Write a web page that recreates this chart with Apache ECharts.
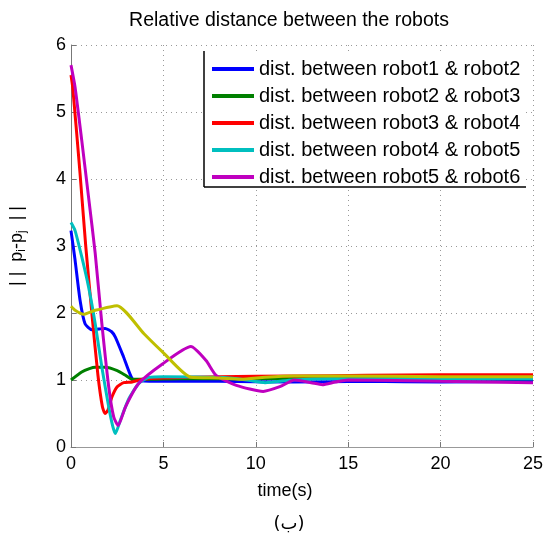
<!DOCTYPE html>
<html>
<head>
<meta charset="utf-8">
<script src="https://cdn.jsdelivr.net/npm/echarts@6/dist/echarts.min.js"></script>
<style>html,body{margin:0;padding:0;background:#fff}#c{width:551px;height:536px}</style>
</head>
<body>
<div id="c"></div>
<script>
const seriesNames = [
  'dist. between robot1 & robot2',
  'dist. between robot2 & robot3',
  'dist. between robot3 & robot4',
  'dist. between robot4 & robot5',
  'dist. between robot5 & robot6',
  'dist. between robot6 & robot1'
];
const xTicks = [0, 5, 10, 15, 20, 25];
const yTicks = [0, 1, 2, 3, 4, 5, 6];

const t12 = [0,0.22,0.49,0.76,1.13,1.5,1.85,2.2,2.4,2.85,3.31,3.7,5,8,12,16,20,25];
const d12 = [3.23,2.79,2.19,1.84,1.75,1.76,1.77,1.72,1.64,1.34,1.02,0.99,0.98,0.98,0.97,0.98,0.97,0.98];

const t23 = [0,0.58,1.0,1.31,1.85,2.5,2.95,3.31,4,6,10,15,20,25];
const d23 = [1.0,1.12,1.17,1.19,1.19,1.14,1.07,1.01,1.01,1.02,1.02,1.03,1.02,1.02];

const t34 = [0,0.1,0.49,0.8,1.13,1.45,1.7,1.85,2.0,2.22,2.5,2.85,3.31,3.85,5,8,12,16,20,25];
const d34 = [5.55,5.35,4.08,2.99,1.99,1.09,0.6,0.5,0.55,0.75,0.9,0.96,0.97,1.01,1.03,1.05,1.06,1.07,1.08,1.08];

const t45 = [0,0.22,0.58,0.95,1.31,1.67,2.04,2.25,2.4,2.67,3.13,3.67,4.22,5,8,9.5,10.5,12,14,20,25];
const d45 = [3.35,3.23,2.84,2.39,1.84,1.19,0.6,0.32,0.2,0.4,0.72,0.95,1.04,1.05,1.04,1.0,0.96,1.0,1.02,1.02,1.02];

const t56 = [0,0.22,0.58,0.95,1.31,1.67,2.04,2.31,2.55,2.95,3.67,4.95,6.49,7.31,7.85,8.95,10.4,11.3,12.1,13.0,13.6,14.3,15,20,25];
const d56 = [5.7,5.37,4.58,3.73,2.89,1.84,0.9,0.45,0.32,0.6,0.95,1.24,1.5,1.29,1.07,0.92,0.83,0.9,1.0,0.96,0.93,0.97,1.0,0.98,0.96];

const t61 = [0,0.22,0.67,1.31,2.49,3.95,4.95,6.49,8,9.2,10.5,12,15,20,25];
const d61 = [2.1,2.04,1.98,2.04,2.11,1.69,1.42,1.04,1.03,1.01,1.04,1.06,1.06,1.05,1.05];

const colors = ['#0000ff','#008000','#ff0000','#00bfbf','#bf00bf','#bfbf00'];
const times = [t12, t23, t34, t45, t56, t61];
const dists = [d12, d23, d34, d45, d56, d61];

const FONT = "'Liberation Sans', Arial, sans-serif";
const chart = echarts.init(document.getElementById('c'), null, {renderer: 'canvas'});

const series = times.map((t, i) => ({
  name: seriesNames[i],
  type: 'line',
  data: t.map((x, k) => [x, dists[i][k]]),
  showSymbol: false,
  smooth: 0.2,
  lineStyle: {color: colors[i], width: 3},
  itemStyle: {color: colors[i]},
  z: 2 + i,
  animation: false
}));

chart.setOption({
  animation: false,
  backgroundColor: '#fff',
  grid: {left: 68, right: 18, top: 45, bottom: 89, containLabel: false},
  xAxis: {
    type: 'value', min: 0, max: 25, interval: 5,
    axisLine: {show: true, lineStyle: {color: '#999', width: 1}},
    axisTick: {show: true, inside: true, length: 5, lineStyle: {color: '#777'}},
    axisLabel: {color: '#000', fontSize: 18, fontFamily: FONT, margin: 8,
      formatter: v => xTicks.includes(v) ? String(v) : ''},
    splitLine: {show: true, lineStyle: {color: '#999', type: [1, 4], width: 1}}
  },
  yAxis: {
    type: 'value', min: 0, max: 6, interval: 1,
    axisLine: {show: true, lineStyle: {color: '#777', width: 1}},
    axisTick: {show: true, inside: true, length: 5, lineStyle: {color: '#777'}},
    axisLabel: {color: '#000', fontSize: 18, fontFamily: FONT, margin: 5,
      formatter: v => yTicks.includes(v) ? String(v) : ''},
    splitLine: {show: true, lineStyle: {color: '#999', type: [1, 4], width: 1}},
    name: '{a|| |  p}{s|i}{a|-p}{s|j}{a|  | |}',
    nameLocation: 'middle',
    nameRotate: 90,
    nameGap: 43,
    nameTextStyle: {
      rich: {
        a: {fontSize: 18, fontFamily: FONT, color: '#000', lineHeight: 22, verticalAlign: 'middle'},
        s: {fontSize: 12, fontFamily: FONT, color: '#000', lineHeight: 22, verticalAlign: 'bottom', padding: [8, 0, 0, 0]}
      }
    }
  },
  legend: {
    data: seriesNames.slice(0, 5),
    orient: 'vertical',
    left: 212, top: 59,
    padding: 0,
    itemWidth: 42, itemHeight: 4, itemGap: 7,
    icon: 'rect',
    textStyle: {fontSize: 20, fontFamily: FONT, color: '#000', lineHeight: 18},
    z: 10
  },
  graphic: [
    {type: 'rect', shape: {x: 204, y: 51, width: 322, height: 136}, style: {fill: '#fff'}, z: 1, silent: true},
    {type: 'line', shape: {x1: 204, y1: 51, x2: 204, y2: 187}, style: {stroke: '#000', lineWidth: 1.5}, z: 9},
    {type: 'line', shape: {x1: 204, y1: 187, x2: 526, y2: 187}, style: {stroke: '#000', lineWidth: 1.5}, z: 9},
    {type: 'text', x: 289, y: 21, style: {text: 'Relative distance between the robots', fontSize: 19.5, fontFamily: FONT, fill: '#000', textAlign: 'center', textVerticalAlign: 'middle'}},
    {type: 'text', x: 285, y: 491, style: {text: 'time(s)', fontSize: 18, fontFamily: FONT, fill: '#000', textAlign: 'center', textVerticalAlign: 'middle'}},
    {type: 'text', x: 289, y: 524, style: {text: '(ب)', fontSize: 18, fontFamily: "'DejaVu Sans', 'Noto Sans', sans-serif", fill: '#000', textAlign: 'center', textVerticalAlign: 'middle'}}
  ],
  series: series
});
</script>
</body>
</html>
